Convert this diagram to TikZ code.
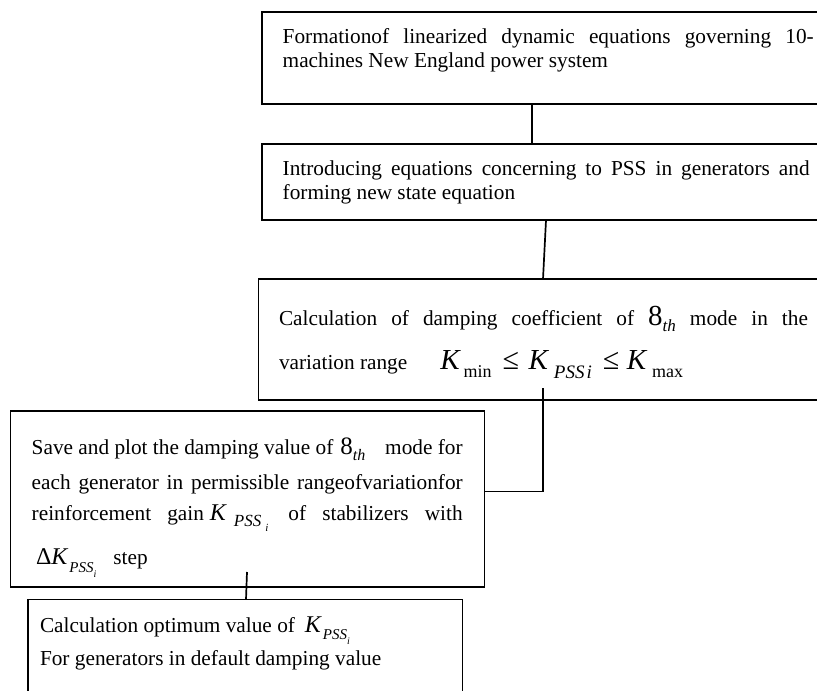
\documentclass[tikz,border=0pt]{standalone}
\usepackage{fontspec}
\setmainfont{Liberation Serif}
\newcommand\fs{\fontsize{21.3}{24}\selectfont}
\newcommand\Kb[1]{{\fontsize{#1}{#1}\selectfont\itshape K}}
\newcommand\lo[3]{\raisebox{-#1pt}{\fontsize{#2}{#2}\selectfont #3}}
\newcommand\bigop[2]{{\fontsize{#1}{#1}\selectfont #2}}
\tikzset{
  boxstyle/.style={draw, line width=1.7pt, rectangle, inner sep=0pt, outer sep=0pt, anchor=north west},
  linkstyle/.style={line width=1.7pt},
  txt/.style={anchor=base west, inner sep=0pt, outer sep=0pt, font=\fs},
}
\begin{document}
\begin{tikzpicture}[x=1pt,y=-1pt]
\useasboundingbox (0,0) rectangle (817,691);
% boxes
\node[boxstyle, minimum width=570pt, minimum height=91.7pt] (b1) at (261.7,12.3) {};
\node[boxstyle, minimum width=570pt, minimum height=76.5pt] (b2) at (261.7,143.8) {};
\node[boxstyle, minimum width=572pt, minimum height=120.6pt] (b3) at (258.5,279.2) {};
\node[boxstyle, minimum width=473.9pt, minimum height=176pt] (b4) at (10.6,410.8) {};
\node[boxstyle, minimum width=434.2pt, minimum height=120pt] (b5) at (28.2,599.5) {};
% connector helpers
\coordinate (c1) at (531.7,0);
\coordinate (c2t) at (546,0);
\coordinate (c2b) at (543,0);
\coordinate (c3) at (543,388);
\coordinate (c4) at (0,491.5);
\coordinate (c5t) at (247,572);
\coordinate (c5b) at (246,0);
\draw[linkstyle] (b1.south -| c1) -- (b2.north -| c1);
\draw[linkstyle] (b2.south -| c2t) -- (b3.north -| c2b);
\draw[linkstyle] (c3) |- (b4.east |- c4);
\draw[linkstyle] (c5t) -- (b5.north -| c5b);
% box 1 text
\node[txt] (t11) at (282.7,43.5) {\makebox[531pt][s]{Formationof linearized dynamic equations governing 10-}};
\node[txt] (t12) at (282.7,67) {machines New England power system};
% box 2 text
\node[txt] (t21) at (282.7,175.3) {\makebox[527pt][s]{Introducing equations concerning to PSS in generators and}};
\node[txt] (t22) at (282.7,199.3) {forming new state equation};
% box 3 text
\node[txt] (t31) at (279,325) {\makebox[529pt][s]{Calculation of damping coefficient of \bigop{29}{8}\lo{6}{17}{\itshape th} mode in the}};
\node[txt] (t32) at (279,369.5) {variation range\hspace{33pt}\Kb{29}\hspace{4pt}\lo{8}{18}{min}\hspace{11pt}\bigop{30}{≤}\hspace{9.5pt}\Kb{29}\hspace{6pt}\lo{9}{19}{\itshape PSS}\hspace{2pt}\lo{9}{19}{\itshape i}\hspace{11pt}\bigop{30}{≤}\hspace{7.5pt}\Kb{29}\hspace{6pt}\lo{8}{18}{max}};
% box 4 text
\node[txt] (t41) at (31.7,454) {\makebox[431pt][l]{Save and plot the damping value of\hspace{7pt}\bigop{25}{8}\lo{6}{16}{\itshape th}\hfill mode for}};
\node[txt] (t42) at (31.7,489) {\makebox[431pt][s]{each generator in permissible rangeofvariationfor}};
\node[txt] (t43) at (31.7,520) {\makebox[431pt][s]{reinforcement gain\hspace{6pt}\Kb{24}\hspace{8pt}\lo{6}{17}{\itshape PSS}\hspace{4pt}\lo{11}{11}{\itshape i}\hspace{20pt}of stabilizers with}};
\node[txt] (t44) at (36,564.5) {\bigop{24}{Δ}\Kb{24}\hspace{2pt}\lo{8}{15}{\itshape PSS}\lo{13}{10}{\itshape i}\hspace{17pt}step};
% box 5 text
\node[txt] (t51) at (40,632) {Calculation optimum value of\hspace{10pt}\Kb{24}\hspace{2pt}\lo{7}{15}{\itshape PSS}\lo{12}{10}{\itshape i}};
\node[txt] (t52) at (40,665) {For generators in default damping value};
\end{tikzpicture}
\end{document}
